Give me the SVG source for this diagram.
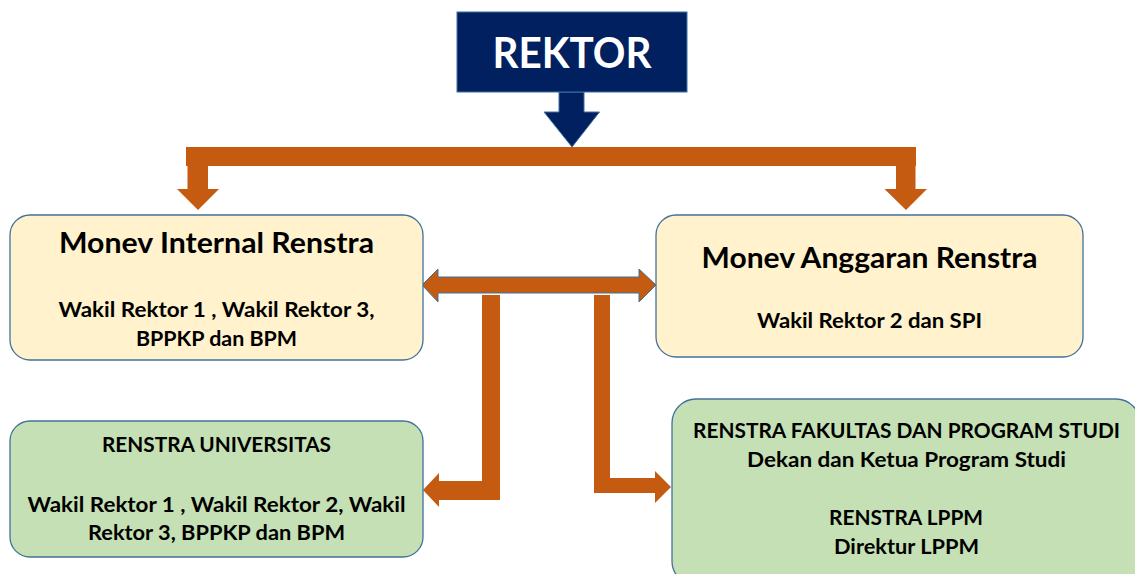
<svg xmlns="http://www.w3.org/2000/svg" width="1135" height="574" viewBox="0 0 1135 574">
<style>
.box{stroke:#41719C;stroke-width:1.3}
.yel{fill:#FFF2CC}
.grn{fill:#C5E0B4}
.t{font-family:Lato,"Liberation Sans",Arial,sans-serif;font-weight:bold;fill:#000;text-anchor:middle}
.h{font-size:28px}
.b{font-size:21px}
.org{fill:#C55A11}
</style>
<rect width="1135" height="574" fill="#FFFFFF"/>
<g id="connectors">
<polygon points="559,92 584,92 584,112 599.5,112 572,147 544,112 559,112" fill="#002060" stroke="#41719C" stroke-width="1"/>
<rect class="org" x="186" y="147" width="730" height="19"/>
<polygon class="org" points="187.5,166 208,166 208,189 219,189 198,210 177,189 187.5,189"/>
<polygon class="org" points="896,166 915.5,166 915.5,189 927,189 906,210 884.5,189 896,189"/>
<polygon class="org" points="422,285 438,269 438,277 639,277 639,269 656,285 639,302 639,293 438,293 438,302" stroke="#41719C" stroke-width="1"/>
<polygon class="org" points="423,490 439,473 439,481 482,481 482,295 500,295 500,500 439,500 439,507"/>
<polygon class="org" points="594,295 610,295 610,478 655,478 655,471 671,487 655,503 655,493 594,493"/>
</g>
<g id="rektor">
<rect x="457" y="12" width="230" height="80" fill="#002060" stroke="#41719C" stroke-width="1"/>
<text x="572" y="68" font-family="Lato,'Liberation Sans',Arial,sans-serif" font-weight="bold" font-size="42" fill="#FFFFFF" text-anchor="middle" textLength="159" lengthAdjust="spacingAndGlyphs">REKTOR</text>
</g>
<g id="monev-internal">
<rect class="box yel" x="10" y="215" width="413" height="145" rx="20"/>
<text class="t h" x="216.5" y="253" textLength="315" lengthAdjust="spacingAndGlyphs">Monev Internal Renstra</text>
<text class="t b" x="216.5" y="317" textLength="316" lengthAdjust="spacingAndGlyphs">Wakil Rektor 1 , Wakil Rektor 3,</text>
<text class="t b" x="216.5" y="346" textLength="161" lengthAdjust="spacingAndGlyphs">BPPKP dan BPM</text>
</g>
<g id="monev-anggaran">
<rect class="box yel" x="656" y="215" width="427" height="142" rx="20"/>
<text class="t h" x="869.5" y="268" textLength="336" lengthAdjust="spacingAndGlyphs">Monev Anggaran Renstra</text>
<text class="t b" x="869.5" y="328" textLength="225" lengthAdjust="spacingAndGlyphs">Wakil Rektor 2 dan SPI</text>
</g>
<g id="renstra-universitas">
<rect class="box grn" x="10" y="421" width="413" height="136" rx="20"/>
<text class="t b" x="216.5" y="452" textLength="229" lengthAdjust="spacingAndGlyphs">RENSTRA UNIVERSITAS</text>
<text class="t b" x="216.5" y="512" textLength="378" lengthAdjust="spacingAndGlyphs">Wakil Rektor 1 , Wakil Rektor 2, Wakil</text>
<text class="t b" x="216.5" y="540" textLength="257" lengthAdjust="spacingAndGlyphs">Rektor 3, BPPKP dan BPM</text>
</g>
<g id="renstra-fakultas">
<rect class="box grn" x="672" y="399" width="468" height="186" rx="24"/>
<text class="t b" x="906.5" y="438" textLength="427" lengthAdjust="spacingAndGlyphs">RENSTRA FAKULTAS DAN PROGRAM STUDI</text>
<text class="t b" x="906.5" y="467" textLength="319" lengthAdjust="spacingAndGlyphs">Dekan dan Ketua Program Studi</text>
<text class="t b" x="906" y="525" textLength="154" lengthAdjust="spacingAndGlyphs">RENSTRA LPPM</text>
<text class="t b" x="906.5" y="554" textLength="145" lengthAdjust="spacingAndGlyphs">Direktur LPPM</text>
</g>
</svg>
